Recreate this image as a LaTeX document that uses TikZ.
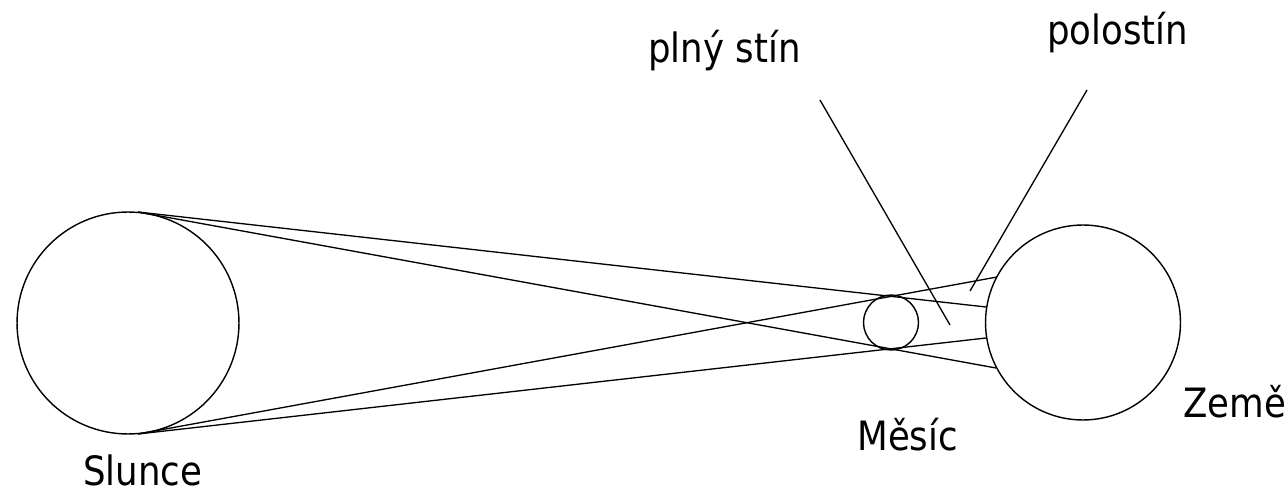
\documentclass[tikz,border=0pt]{standalone}
\usepackage{fontspec}
\setmainfont[FakeStretch=0.88]{DejaVu Sans}
\begin{document}
\begin{tikzpicture}[x=0.02cm,y=-0.02cm,
  body/.style={draw,circle,inner sep=0pt,line width=0.8pt},
  ray/.style={line width=0.75pt},
  lbl/.style={anchor=base west,inner sep=0pt,font=\fontsize{23pt}{27pt}\selectfont}]
\useasboundingbox (0,0) rectangle (1288,493);
% bodies
\node[body,minimum size=4.44cm] (sun) at (128,323) {};
\node[body,minimum size=1.1cm] (moon) at (891,322.5) {};
\node[body,minimum size=3.9cm] (earth) at (1083,322.5) {};
% tangent points
\coordinate (sT) at (138,212);
\coordinate (sB) at (138,434);
\coordinate (e1) at (997,277);
\coordinate (e2) at (986,307);
\coordinate (e3) at (986,338);
\coordinate (e4) at (996,368);
% rays
\draw[ray] (sT) -- (e2);
\draw[ray] (sT) -- (e4);
\draw[ray] (sB) -- (e1);
\draw[ray] (sB) -- (e3);
% labels
\node[lbl] (lplny) at (648,63) {plný stín};
\node[lbl] (lpolo) at (1047,45) {polostín};
\node[lbl] (lslun) at (83,485) {Slunce};
\node[lbl] (lmes) at (857,450) {Měsíc};
\node[lbl] (lzem) at (1183,417) {Země};
% pointer lines
\coordinate (p1a) at (820,100);
\coordinate (p1b) at (950,325);
\coordinate (p2a) at (1087,90);
\coordinate (p2b) at (970,291);
\draw[ray] (p1a) -- (p1b);
\draw[ray] (p2a) -- (p2b);
\end{tikzpicture}
\end{document}
